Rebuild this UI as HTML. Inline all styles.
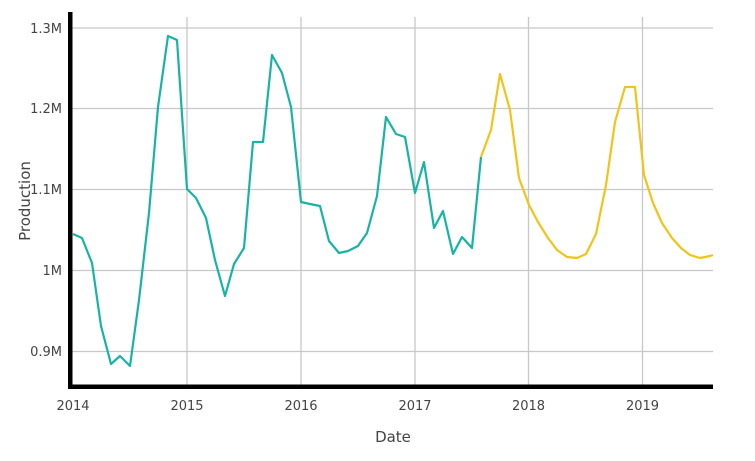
<!DOCTYPE html>
<html><head><meta charset="utf-8"><style>
body{margin:0;background:#fff;}
svg{display:block;font-family:"DejaVu Sans","Liberation Sans",sans-serif;}
</style></head><body>
<svg width="755" height="461" viewBox="0 0 755 461">
<g stroke="#c8c8c8" stroke-width="1.3">
<line x1="72" y1="28" x2="713" y2="28"/>
<line x1="72" y1="108.5" x2="713" y2="108.5"/>
<line x1="72" y1="189.5" x2="713" y2="189.5"/>
<line x1="72" y1="270.5" x2="713" y2="270.5"/>
<line x1="72" y1="351.5" x2="713" y2="351.5"/>
<line x1="187" y1="17" x2="187" y2="385"/>
<line x1="301" y1="17" x2="301" y2="385"/>
<line x1="415" y1="17" x2="415" y2="385"/>
<line x1="528.5" y1="17" x2="528.5" y2="385"/>
<line x1="642.5" y1="17" x2="642.5" y2="385"/>
</g>
<polyline fill="none" stroke="#17b3a3" stroke-width="2.2" stroke-linejoin="round" points="73,234 82,238 92,263 101,326 111,364 120,356 130,366 139,300 149,213 158,107 168,36 177,40 187,189 196,198 206,218 215,260 225,296 234,264 244,248 253,142 263,142 272,55 282,73 291,107 301,202 310,204 320,206 329,241 339,253 348,251 358,246 367,233 377,196 386,117 396,134 405,137 415,193 424,162 434,228 443,211 453,254 462,237 472,248 481,157"/>
<polyline fill="none" stroke="#f0c418" stroke-width="2.2" stroke-linejoin="round" points="481,157 491,130 500,74 510,110 519,178 529,205 538,222 548,238 557,250 567,257 577,258 586,254 596,234 606,185 615,122 625,87 635,87 644,175 653,203 662,223 672,238 681,248 690,255 700,258 710,256 713,255"/>
<rect x="68" y="12" width="4.5" height="377" fill="#000"/>
<rect x="68" y="384.5" width="645" height="4.5" fill="#000"/>
<g fill="#444" font-size="13" text-anchor="end">
<text x="62" y="33">1.3M</text>
<text x="62" y="113">1.2M</text>
<text x="62" y="194">1.1M</text>
<text x="62" y="275">1M</text>
<text x="62" y="356">0.9M</text>
</g>
<g fill="#444" font-size="13" text-anchor="middle">
<text x="73" y="410">2014</text>
<text x="187" y="410">2015</text>
<text x="301" y="410">2016</text>
<text x="415" y="410">2017</text>
<text x="528.5" y="410">2018</text>
<text x="642.5" y="410">2019</text>
</g>
<text x="393" y="442" fill="#444" font-size="15" text-anchor="middle">Date</text>
<text transform="translate(30,201) rotate(-90)" fill="#444" font-size="15" text-anchor="middle">Production</text>
</svg>
</body></html>
